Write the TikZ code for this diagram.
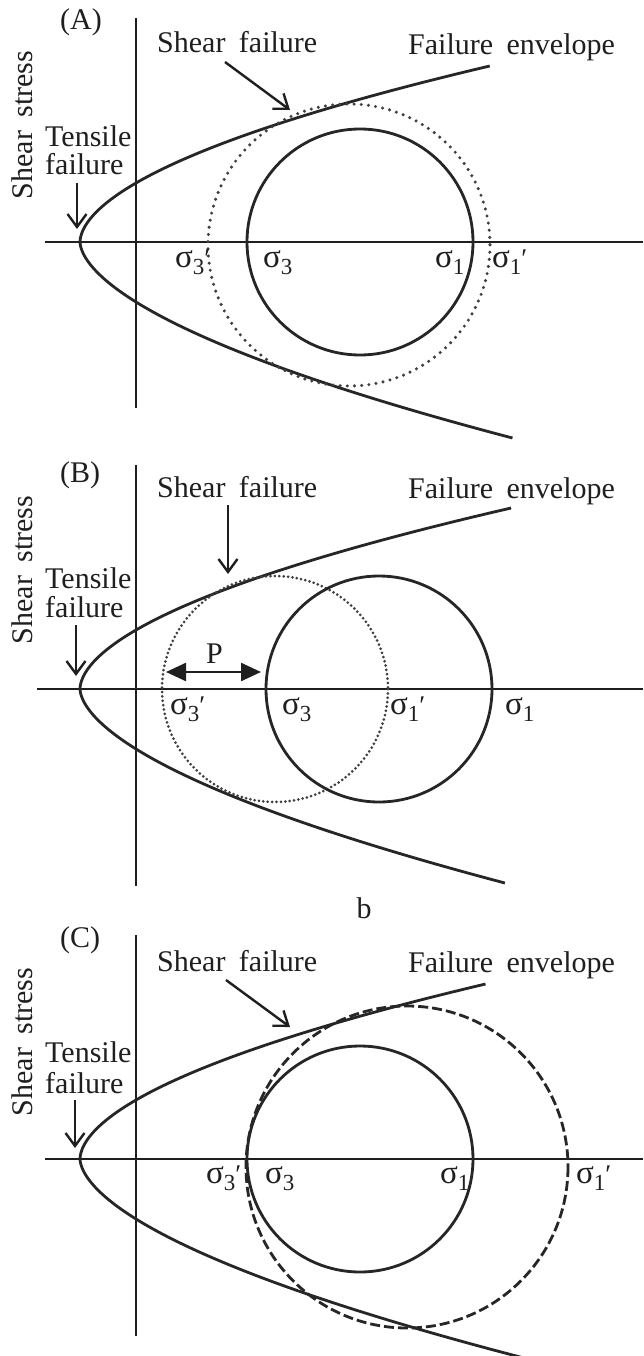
\documentclass[tikz,border=0pt]{standalone}
\usepackage{fontspec}
\setmainfont{Liberation Serif}
\usetikzlibrary{arrows.meta}
\newcommand{\sg}[2]{{\fontsize{33}{36}\selectfont σ}\raisebox{-7pt}{\fontsize{23}{25}\selectfont #1}{\fontsize{27}{30}\selectfont #2}}
\newcommand{\wsp}{\hspace{0.45em}}
\newcommand{\envcurve}[3]{%
  \draw[curve] plot[domain=-#2:#3, samples=160]
    ({80 + (\x<0 ? 56*pow(max(-\x,0.02)/60,1.727) : 56*pow(max(\x,0.02)/59,1.821))}, {#1-\x});
}
\begin{document}
\begin{tikzpicture}[x=1pt, y=-1pt,
  curve/.style={line width=2.8pt, draw=black!85},
  axisline/.style={line width=2.6pt, draw=black!88},
  txt/.style={font=\fontsize{30}{34}\selectfont, inner sep=0pt, text=black!88},
  arr/.style={line width=2.4pt, draw=black!88, -{Straight Barb[length=13pt,width=19pt,line width=2.4pt]}},
  dotA/.style={line width=3.4pt, draw=black!75, line cap=round, dash pattern=on 0pt off 7.2pt},
  dotB/.style={line width=3pt, draw=black!75, line cap=round, dash pattern=on 0pt off 4.4pt},
  dashC/.style={line width=2.8pt, draw=black!85, dash pattern=on 10pt off 4pt},
  parr/.style={line width=2.4pt, draw=black!88, fill=black!88, {Triangle[length=20pt,width=18pt]}-{Triangle[length=20pt,width=18pt]}}
]
\useasboundingbox (0,0) rectangle (643,1356);
\fill[white] (0,0) rectangle (643,1356);

% ================= Panel A =================
\draw[axisline] (136,18) -- (136,408);
\draw[axisline] (45,242) -- (643,242);
\envcurve{242}{196}{176}
\draw[curve] (360,242) circle[radius=113];
\draw[dotA] (349,245) circle[radius=141];
\node[txt, anchor=base west] (labA) at (60,30) {(A)};
\node[txt, anchor=center, rotate=90] (ssA) at (22,125) {Shear\wsp{}stress};
\node[txt, anchor=base west] (sfA) at (157,53) {Shear\wsp{}failure};
\node[txt, anchor=base west] (feA) at (408,55) {Failure\wsp{}envelope};
\node[txt, anchor=base west] (tsA) at (45,147) {Tensile};
\node[txt, anchor=base west] (tfA) at (45,175) {failure};
\coordinate (sfAs) at (225,62);
\coordinate (sfAe) at (290,110);
\coordinate (tfAs) at (77,183);
\coordinate (tfAe) at (77,229);
\draw[arr] (sfAs) -- (sfAe);
\draw[arr] (tfAs) -- (tfAe);
\node[txt, anchor=base west] (s3pA) at (175,267) {\sg{3}{′}};
\node[txt, anchor=base west] (s3A) at (263,267) {\sg{3}{}};
\node[txt, anchor=base west] (s1A) at (435,267) {\sg{1}{}};
\node[txt, anchor=base west] (s1pA) at (492,267) {\sg{1}{′}};

% ================= Panel B =================
\draw[axisline] (136,465) -- (136,886);
\draw[axisline] (37,689) -- (643,689);
\envcurve{689}{194}{181}
\draw[dotB] (275,689) circle[radius=113];
\draw[curve] (379,689) circle[radius=113];
\node[txt, anchor=base west] (labB) at (60,482) {(B)};
\node[txt, anchor=center, rotate=90] (ssB) at (22,570) {Shear\wsp{}stress};
\node[txt, anchor=base west] (sfB) at (157,497) {Shear\wsp{}failure};
\node[txt, anchor=base west] (feB) at (408,498) {Failure\wsp{}envelope};
\node[txt, anchor=base west] (tsB) at (45,588) {Tensile};
\node[txt, anchor=base west] (tfB) at (45,617) {failure};
\coordinate (sfBs) at (228,505);
\coordinate (sfBe) at (228,574);
\coordinate (tfBs) at (76,625);
\coordinate (tfBe) at (76,676);
\draw[arr] (sfBs) -- (sfBe);
\draw[arr] (tfBs) -- (tfBe);
\coordinate (pL) at (166,672);
\coordinate (pR) at (261,672);
\draw[parr] (pL) -- (pR);
\node[txt, anchor=base west] (pB) at (206,663) {P};
\node[txt, anchor=base west] (s3pB) at (170,714) {\sg{3}{′}};
\node[txt, anchor=base west] (s3B) at (282,714) {\sg{3}{}};
\node[txt, anchor=base west] (s1pB) at (390,714) {\sg{1}{′}};
\node[txt, anchor=base west] (s1B) at (505,714) {\sg{1}{}};
\node[txt, anchor=base] (bB) at (364,918) {b};

% ================= Panel C =================
\draw[axisline] (136,935) -- (136,1336);
\draw[axisline] (45,1159) -- (643,1159);
\envcurve{1159}{215}{175}
\draw[curve] (360,1159) circle[radius=113];
\draw[dashC] (407,1167) circle[radius=161];
\node[txt, anchor=base west] (labC) at (60,947) {(C)};
\node[txt, anchor=center, rotate=90] (ssC) at (22,1042) {Shear\wsp{}stress};
\node[txt, anchor=base west] (sfC) at (157,971) {Shear\wsp{}failure};
\node[txt, anchor=base west] (feC) at (408,972) {Failure\wsp{}envelope};
\node[txt, anchor=base west] (tsC) at (45,1062) {Tensile};
\node[txt, anchor=base west] (tfC) at (45,1093) {failure};
\coordinate (sfCs) at (226,980);
\coordinate (sfCe) at (290,1027);
\coordinate (tfCs) at (75,1100);
\coordinate (tfCe) at (75,1148);
\draw[arr] (sfCs) -- (sfCe);
\draw[arr] (tfCs) -- (tfCe);
\node[txt, anchor=base west] (s3pC) at (206,1183) {\sg{3}{′}};
\node[txt, anchor=base west] (s3C) at (265,1183) {\sg{3}{}};
\node[txt, anchor=base west] (s1C) at (440,1183) {\sg{1}{}};
\node[txt, anchor=base west] (s1pC) at (576,1183) {\sg{1}{′}};
\end{tikzpicture}
\end{document}
